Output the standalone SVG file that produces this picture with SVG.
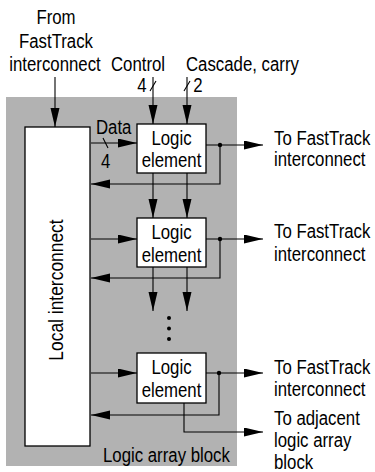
<svg xmlns="http://www.w3.org/2000/svg" width="375" height="472" viewBox="0 0 375 472">
<style>
.t{font-family:"Liberation Sans",Arial,sans-serif;font-size:21px;fill:#000}
.m{text-anchor:middle}
.box{fill:#fff;stroke:#000;stroke-width:1.3}
.ln{fill:none;stroke:#000;stroke-width:1.1}
.ar{marker-end:url(#ah)}
</style>
<defs>
<marker id="ah" markerUnits="userSpaceOnUse" markerWidth="20" markerHeight="10" refX="19" refY="4.5" orient="auto">
<path d="M0,0 L19,4.5 L0,9 z" fill="#000"/>
</marker>
</defs>
<rect id="lab-bg" x="6" y="97" width="231" height="369" fill="#b2b2b2"/>
<g id="local-interconnect">
<rect class="box" x="25" y="127" width="65" height="319"/>
<text class="t m" transform="translate(63,290) rotate(-90) scale(0.83,1)">Local interconnect</text>
</g>
<g id="le1">
<rect class="box" x="137" y="124" width="69" height="49"/>
<g transform="scale(0.8,1)"><text class="t m" x="214.4" y="145">Logic</text><text class="t m" x="214.4" y="167">element</text></g>
</g>
<g id="le2">
<rect class="box" x="137" y="218" width="69" height="49"/>
<g transform="scale(0.8,1)"><text class="t m" x="214.4" y="239">Logic</text><text class="t m" x="214.4" y="262">element</text></g>
</g>
<g id="le3">
<rect class="box" x="137" y="353" width="69" height="50"/>
<g transform="scale(0.8,1)"><text class="t m" x="214.4" y="374">Logic</text><text class="t m" x="214.4" y="397">element</text></g>
</g>
<g id="connectors">
<path class="ln ar" d="M55,77 V127"/>
<path class="ln ar" d="M153,77 V124"/>
<path class="ln ar" d="M187,77 V124"/>
<path class="ln" d="M150,91 L156,81 M184,91 L190,81 M103,138 L108,148"/>
<path class="ln ar" d="M91,143 H137"/>
<path class="ln ar" d="M206,145 H263"/>
<path class="ln ar" d="M220,145 V184 H91"/>
<path class="ln ar" d="M153,173 V218"/>
<path class="ln ar" d="M187,173 V218"/>
<path class="ln ar" d="M91,239 H137"/>
<path class="ln ar" d="M206,239 H263"/>
<path class="ln ar" d="M220,239 V278 H91"/>
<path class="ln ar" d="M153,267 V311"/>
<path class="ln ar" d="M187,267 V311"/>
<path class="ln ar" d="M91,373 H137"/>
<path class="ln ar" d="M206,373 H263"/>
<path class="ln ar" d="M219,373 V415 H91"/>
<path class="ln ar" d="M184,403 V432 H263"/>
<g fill="#000">
<circle cx="220" cy="145" r="2.2"/>
<circle cx="220" cy="239" r="2.2"/>
<circle cx="219" cy="373" r="2.2"/>
<circle cx="169" cy="318" r="2"/>
<circle cx="169" cy="328.5" r="2"/>
<circle cx="169" cy="339" r="2"/>
</g>
</g>
<g id="labels" transform="scale(0.8,1)">
<text class="t m" x="70" y="24">From</text>
<text class="t m" x="70" y="48">FastTrack</text>
<text class="t m" x="68.75" y="71">interconnect</text>
<text class="t m" x="172.5" y="71">Control</text>
<text class="t" x="232.5" y="71">Cascade, carry</text>
<text class="t m" x="177.5" y="92">4</text>
<text class="t m" x="247.5" y="92">2</text>
<text class="t" x="120" y="134">Data</text>
<text class="t m" x="132" y="168">4</text>
<text class="t" x="342.5" y="145">To FastTrack</text>
<text class="t" x="342.5" y="166">interconnect</text>
<text class="t" x="342.5" y="238">To FastTrack</text>
<text class="t" x="342.5" y="261">interconnect</text>
<text class="t" x="342.5" y="374">To FastTrack</text>
<text class="t" x="342.5" y="396">interconnect</text>
<text class="t" x="342.5" y="425">To adjacent</text>
<text class="t" x="342.5" y="447">logic array</text>
<text class="t" x="342.5" y="469">block</text>
<text class="t" x="128.75" y="462">Logic array block</text>
</g>
</svg>
